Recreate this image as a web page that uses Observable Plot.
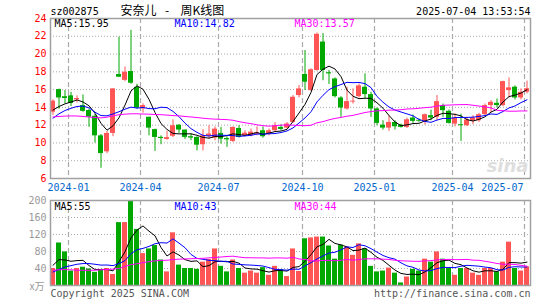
<!DOCTYPE html>
<html><head><meta charset="utf-8">
<script src="https://cdn.jsdelivr.net/npm/d3@7"></script>
<script src="https://cdn.jsdelivr.net/npm/@observablehq/plot@0.6"></script>
<style>
html,body{margin:0;padding:0;background:#fff;}
#chart{position:relative;width:545px;height:300px;overflow:hidden;background:#fff;}
#chart svg{display:block;}
</style></head><body><div id="chart"></div>
<script>
// ---- header / labels ----
const stockCode = "sz002875";
const titleParts = ["安奈儿", "-", "周K线图"];
const stamp = "2025-07-04 13:53:54";
const maNames = ["MA5", "MA10", "MA30"];
const priceMaNow = ["15.95", "14.82", "13.57"];
const volMaNow = ["55", "43", "44"];
const priceTicks = [6, 8, 10, 12, 14, 16, 18, 20, 22, 24];
const volTicks = [40, 80, 120, 160, 200];
const volUnit = "x万";
const monthIdx = [3, 15, 28, 42, 54, 67, 79];
const monthLabels = ["2024-01", "2024-04", "2024-07", "2024-10", "2025-01", "2025-04", "2025-07"];
const footLeft = "Copyright 2025 SINA.COM";
const footRight = "http://finance.sina.com.cn";

// ---- weekly OHLC ----
const open = [13.46,16.0,15.2,15.3,14.85,14.2,13.65,13.0,10.8,9.0,
 11.07,17.7,17.04,18.04,16.25,13.84,12.89,11.5,10.63,10.4,
 10.75,12.0,11.45,10.7,10.62,9.8,10.75,10.54,11.07,10.5,
 10.17,11.63,10.8,10.8,11.0,11.37,11.0,11.37,11.75,11.67,
 12.31,15.33,17.7,15.89,18.15,21.35,17.9,17.2,15.06,13.82,
 14.6,15.21,16.27,15.44,13.82,12.0,11.67,12.31,12.0,11.75,
 12.8,12.55,12.43,13.07,12.88,14.2,13.56,12.12,12.05,11.94,
 12.43,12.5,13.18,14.2,14.46,14.2,15.89,16.27,15.06,15.7];
const high = [14.85,16.05,15.9,15.7,15.3,15.4,13.8,13.2,10.95,11.3,
 16.1,21.9,18.54,22.67,16.6,14.4,12.9,11.55,10.8,11.3,
 12.6,12.05,11.45,11.0,10.7,11.5,11.95,11.8,11.75,10.7,
 11.8,11.94,11.37,11.56,11.8,11.8,11.56,12.3,12.05,12.3,
 15.33,16.45,20.4,18.34,22.37,22.3,18.15,17.32,15.21,16.27,
 16.08,16.64,17.77,15.7,13.93,12.5,13.07,12.5,12.12,12.8,
 13.14,12.69,13.25,13.7,15.33,14.38,13.7,13.25,13.25,12.88,
 13.07,13.33,14.38,14.76,14.95,16.95,17.32,16.42,16.08,16.95];
const low = [13.1,13.8,14.4,14.1,14.5,13.45,11.76,10.0,7.15,8.8,
 10.7,17.35,16.9,16.6,13.8,13.35,10.8,9.05,9.8,10.3,
 10.6,11.07,10.4,10.25,9.1,9.1,10.45,10.24,9.86,9.5,
 10.05,10.54,10.7,10.7,10.8,10.54,10.8,11.3,11.37,11.56,
 12.2,15.06,15.9,15.8,18.08,17.0,16.57,15.06,12.88,13.7,
 14.38,15.06,14.95,12.88,11.94,11.45,11.3,11.45,11.67,11.63,
 12.2,12.31,12.01,12.5,12.5,12.88,12.12,11.82,10.17,11.82,
 12.05,12.31,13.07,13.44,13.93,14.08,15.06,14.84,14.84,15.51];
const close = [14.7,15.06,15.0,14.45,15.0,13.56,12.9,10.8,8.8,11.07,
 16.08,17.4,17.96,16.72,13.93,14.2,11.67,10.62,10.5,10.6,
 11.94,11.45,10.62,10.55,9.75,10.8,11.0,11.56,10.43,10.35,
 11.75,10.62,11.1,11.22,11.15,10.7,11.37,11.94,11.52,12.13,
 15.14,16.08,16.83,18.23,22.22,18.15,17.77,15.21,13.93,14.65,
 14.7,16.42,15.44,13.82,12.2,11.67,12.31,11.82,11.75,12.61,
 12.43,12.45,13.18,12.8,14.65,13.63,12.2,12.8,11.94,12.58,
 12.8,13.18,14.2,14.57,14.2,16.9,16.2,15.06,15.7,16.1];

// ---- price moving averages ----
const ma5 = [13.7,14.1,14.4,14.6,14.84,14.61,14.18,13.34,12.21,11.43,
 11.93,12.83,14.26,15.85,16.42,16.04,14.9,13.43,12.18,11.52,
 11.07,11.02,11.02,11.03,10.86,10.63,10.54,10.73,10.71,10.83,
 11.02,10.94,10.85,11.01,11.17,10.96,11.11,11.28,11.34,11.53,
 12.42,13.36,14.34,15.68,17.7,18.3,18.64,18.32,17.46,15.94,
 15.25,14.98,15.03,15.01,14.52,13.91,13.09,12.36,11.95,12.03,
 12.18,12.21,12.48,12.69,13.1,13.34,13.29,13.22,13.04,12.63,
 12.46,12.66,12.94,13.47,13.79,14.61,15.21,15.39,15.61,15.99];
const ma10 = [12.78,13.28,13.65,13.9,14.1,14.15,13.95,13.46,13.08,13.05,
 13.27,13.51,13.8,14.03,13.92,13.99,13.86,13.85,14.02,13.97,
 13.55,12.96,12.23,11.61,11.19,10.85,10.78,10.88,10.87,10.85,
 10.83,10.74,10.79,10.86,11.0,10.99,11.03,11.06,11.17,11.35,
 11.69,12.24,12.81,13.51,14.62,15.36,16.0,16.33,16.57,16.82,
 16.78,16.81,16.67,16.23,15.23,14.58,14.04,13.7,13.48,13.27,
 13.05,12.65,12.42,12.32,12.57,12.76,12.75,12.85,12.87,12.87,
 12.9,12.98,13.08,13.26,13.21,13.54,13.94,14.16,14.54,14.85];
const ma30 = [12.92,12.98,13.02,13.04,13.03,12.98,12.92,12.86,12.82,12.9,
 13.05,13.18,13.24,13.28,13.28,13.25,13.24,13.2,13.18,13.13,
 13.08,13.05,12.98,12.92,12.86,12.78,12.72,12.68,12.65,12.62,
 12.55,12.4,12.27,12.17,12.04,11.94,11.89,11.93,12.0,12.02,
 12.0,11.97,11.94,11.99,12.27,12.4,12.6,12.76,12.87,13.01,
 13.1,13.26,13.42,13.53,13.61,13.64,13.69,13.7,13.74,13.82,
 13.84,13.9,13.97,14.02,14.14,14.24,14.26,14.29,14.31,14.32,
 14.24,14.15,14.06,13.94,13.67,13.63,13.57,13.57,13.6,13.6];

// ---- weekly volume (万手) and its moving averages ----
const volume = [40,100,79,34,40,43,39,31,36,40,
 26,148,148,198,132,75,86,94,60,32,
 124,48,40,40,38,55,61,86,45,32,
 60,40,29,34,29,42,24,45,37,21,
 86,33,110,112,114,114,93,62,95,90,
 71,98,86,45,32,34,41,29,6,20,
 38,34,62,55,79,62,40,24,40,40,
 29,24,40,40,32,55,102,40,34,44];
const vma5 = [47.6,61,60,57,58.6,59.2,47,37.4,37.8,37.8,
 34.4,56.2,79.6,112,130.4,140.2,127.8,117,89.4,69.4,
 79.2,71.6,60.8,56.8,58,44.2,46.8,56,57,55.8,
 56.8,52.6,41.2,39,38.4,34.8,31.6,34.8,35.4,33.8,
 42.6,44.4,57.4,72.4,91,96.6,108.6,99,95.6,90.8,
 82.2,83.2,88,78,66.4,59,47.6,36.2,28.4,26,
 26.8,25.4,32,41.8,53.6,58.4,59.6,52,49,41.2,
 34.6,31.4,34.6,34.6,33,38.2,53.8,53.8,52.6,55];
const vma10 = [31.7,38,43.7,46.8,50,51.6,51.6,50,48,48.2,
 46.8,51.6,58.5,74.9,84.1,87.3,92,98.3,100.7,99.9,
 109.7,99.7,88.9,73.1,63.7,61.7,59.2,58.4,56.9,56.9,
 50.5,49.7,48.6,48,47.1,45.8,42.1,38,37.2,36.1,
 38.7,38,46.1,53.9,62.4,69.6,76.5,78.2,84,90.9,
 89.4,95.9,93.5,86.8,78.6,70.6,65.4,62.1,53.2,46.2,
 42.9,36.5,34.1,35.1,39.8,42.6,42.5,42,45.4,47.4,
 46.5,45.5,43.3,41.8,37.1,36.4,42.6,44.2,43.6,43.5];
const vma30 = [36,37,37.5,37,36,35.7,35.7,36,37,37.5,
 38.5,40,45,49,51,54,56,58,59,59.5,
 61,62,62.5,63,63.5,64,65,66,67,68.3,
 69,67,65.3,65.3,65,64.9,64.4,64.9,64.9,64.3,
 66.3,62.5,61.2,58.3,57.7,59,59.3,58.2,59.4,61.3,
 59.5,61.2,62.7,62.9,62.7,62,61.3,59.4,58.1,57.7,
 57,56.8,57.9,58.6,60.3,60.9,61.5,60.8,60.9,61.5,
 59.6,59.3,57,54.6,51.8,49.9,50.2,49.4,47.4,45.5];

// ---- drawing ----
const idx = d3.range(close.length);
const UP = "#ff5555", DOWN = "#00a800";
const col = i => close[i] >= open[i] ? UP : DOWN;
const half = 5 / 12;
const mono = "DejaVu Sans Mono, monospace";
const cjk = "Noto Sans CJK SC, sans-serif";
const gridColor = "#aaaaaa";
const maColors = ["#000000", "#0000ff", "#ff00ff"];
const maDx = [4, 124, 244];
const titleDx = [70, 116.5, 130];
const titleAnchor = ["start", "middle", "start"];
const xOpt = {type: "linear", domain: [-half, close.length - half], axis: null};
const styleOpt = {fontFamily: mono, fontSize: "10px", background: "white", overflow: "visible"};

const priceGrid = priceTicks.filter(t => t > 6 && t < 24);
const volGrid = volTicks.filter(t => t < 200);

function maLines(series) {
  return series.map((s, k) => Plot.line(idx, {x: i => i, y: i => s[i], stroke: maColors[k], strokeWidth: 1}));
}
function maText(values, dy) {
  return values.map((v, k) => Plot.text([maNames[k] + ":" + v], {
    text: d => d, frameAnchor: "top-left", textAnchor: "start", lineAnchor: "middle",
    dx: maDx[k], dy, fill: maColors[k]
  }));
}

const topChart = Plot.plot({
  width: 545, height: 192, marginTop: 18, marginBottom: 14, marginLeft: 50, marginRight: 15,
  x: xOpt,
  y: {domain: [6, 24], axis: null},
  color: {type: "identity"},
  style: styleOpt,
  marks: [
    Plot.ruleY(priceGrid, {stroke: gridColor, strokeDasharray: "1,2"}),
    Plot.ruleX(monthIdx, {x: i => i - half, stroke: gridColor, strokeWidth: 1.2, strokeDasharray: "5,3"}),
    Plot.text(["sina"], {text: d => d, frameAnchor: "bottom-right", textAnchor: "end", lineAnchor: "middle",
      dx: -2, dy: -12, fontSize: 18, fontWeight: "bold", fontStyle: "italic", fill: "#dedede", fontFamily: "DejaVu Sans"}),
    Plot.ruleX(idx, {x: i => i, y1: i => low[i], y2: i => high[i], stroke: col, strokeWidth: 1}),
    Plot.rect(idx, {x1: i => i - half, x2: i => i + half,
      y1: i => Math.min(open[i], close[i]), y2: i => Math.max(open[i], close[i]), fill: col}),
    ...maLines([ma5, ma10, ma30]),
    Plot.frame({stroke: "#a0a0a0", strokeWidth: 1.5}),
    Plot.text(priceTicks, {y: d => d, text: d => String(d), frameAnchor: "left", textAnchor: "end", dx: -4, fill: "#ff0000"}),
    Plot.text(monthIdx.slice(0, -1), {x: i => i - half, text: (d, k) => monthLabels[k], frameAnchor: "bottom", lineAnchor: "middle", dy: 9, fill: "#0066cc"}),
    Plot.text(monthIdx.slice(-1), {x: i => i - half, text: () => monthLabels[monthLabels.length - 1], frameAnchor: "bottom", textAnchor: "end", lineAnchor: "middle", dx: -1, dy: 9, fill: "#0066cc"}),
    Plot.text([stockCode], {text: d => d, frameAnchor: "top-left", textAnchor: "start", lineAnchor: "middle", dy: -6.5, fill: "#000"}),
    ...titleParts.map((t, k) => Plot.text([t], {text: d => d, frameAnchor: "top-left", textAnchor: titleAnchor[k], lineAnchor: "middle",
      dx: titleDx[k], dy: -7.5, fontSize: 12, fontFamily: cjk, fill: "#000"})),
    Plot.text([stamp], {text: d => d, frameAnchor: "top-right", textAnchor: "end", lineAnchor: "middle", dy: -6.5, fill: "#000"}),
    ...maText(priceMaNow, 5.5)
  ]
});

const volChart = Plot.plot({
  width: 545, height: 108, marginTop: 8, marginBottom: 15, marginLeft: 50, marginRight: 15,
  x: xOpt,
  y: {domain: [0, 200], axis: null},
  color: {type: "identity"},
  style: styleOpt,
  marks: [
    Plot.ruleY(volGrid, {stroke: gridColor, strokeDasharray: "1,2"}),
    Plot.ruleX(monthIdx, {x: i => i - half, stroke: gridColor, strokeWidth: 1.2, strokeDasharray: "5,3"}),
    Plot.rect(idx, {x1: i => i - half, x2: i => i + half, y1: 0, y2: i => volume[i], fill: col}),
    ...maLines([vma5, vma10, vma30]),
    Plot.frame({stroke: "#a0a0a0", strokeWidth: 1.5}),
    Plot.text(volTicks, {y: d => d, text: d => String(d), frameAnchor: "left", textAnchor: "end", dx: -4, fill: "#999999"}),
    Plot.text([volUnit], {text: d => d, frameAnchor: "bottom-left", textAnchor: "end", lineAnchor: "middle", dx: -6, dy: 1, fill: "#999999", fontFamily: cjk}),
    ...maText(volMaNow, 6.5),
    Plot.text([footLeft], {text: d => d, frameAnchor: "bottom-left", textAnchor: "start", lineAnchor: "middle", dy: 8, fill: "#555"}),
    Plot.text([footRight], {text: d => d, frameAnchor: "bottom-right", textAnchor: "end", lineAnchor: "middle", dy: 8, fill: "#555"})
  ]
});

const root = document.getElementById("chart");
root.appendChild(topChart);
root.appendChild(volChart);
</script></body></html>
